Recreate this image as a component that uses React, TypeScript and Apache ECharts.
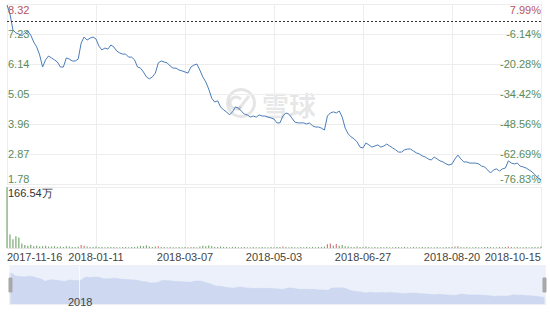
import React, { useEffect, useRef } from 'react';
import * as echarts from 'echarts';

const tickDates = ['2017-11-16', '2018-01-11', '2018-03-07', '2018-05-03', '2018-06-27', '2018-08-20', '2018-10-15'];
const STEP = 30;

const prices = [
  8.28, 7.96, 7.38, 7.27, 7.23, 7.16, 7.27, 7.34, 7.19, 6.94,
  6.76, 6.47, 6.03, 6.29, 6.43, 6.36, 6.29, 6.21, 6.03, 6.03,
  6.36, 6.32, 6.25, 6.25, 6.32, 6.90, 7.12, 7.01, 7.08, 7.12,
  7.05, 6.79, 6.65, 6.72, 6.68, 6.83, 6.76, 6.61, 6.54, 6.50,
  6.50, 6.39, 6.39, 6.29, 6.03, 5.99, 5.85, 5.67, 5.60, 5.67,
  5.81, 6.18, 6.25, 6.21, 6.18, 6.07, 5.99, 5.99, 5.92, 5.89,
  5.85, 5.81, 6.03, 6.10, 6.14, 5.92, 5.67, 5.49, 5.23, 4.90,
  4.76, 4.80, 4.58, 4.47, 4.40, 4.29, 4.40, 4.58, 4.54, 4.43,
  4.32, 4.29, 4.21, 4.25, 4.21, 4.29, 4.25, 4.25, 4.21, 4.18,
  4.14, 4.00, 4.00, 4.25, 4.36, 4.32, 4.18, 4.03, 4.00, 4.00,
  4.00, 3.96, 4.00, 3.89, 3.85, 3.85, 3.81, 3.74, 4.25, 4.36,
  4.40, 4.36, 4.43, 4.21, 3.81, 3.60, 3.49, 3.42, 3.31, 3.12,
  3.09, 3.27, 3.20, 3.12, 3.16, 3.20, 3.12, 3.16, 3.23, 3.16,
  3.09, 3.02, 2.94, 2.94, 3.02, 3.05, 3.05, 2.98, 2.91, 2.87,
  2.80, 2.76, 2.69, 2.65, 2.76, 2.69, 2.62, 2.58, 2.51, 2.47,
  2.51, 2.69, 2.83, 2.69, 2.58, 2.58, 2.54, 2.54, 2.54, 2.51,
  2.43, 2.40, 2.29, 2.18, 2.29, 2.33, 2.25, 2.33, 2.36, 2.62,
  2.54, 2.51, 2.54, 2.43, 2.40, 2.36, 2.29, 2.22, 2.11, 2.00,
  1.93,
];

const volumes = [
  166.54, 37, 24, 32, 29, 12, 8, 6, 9, 5,
  6, 4, 5, 6, 4, 4, 5, 3, 4, 3,
  5, 4, 3, 3, 4, 8, 6, 4, 3, 3,
  4, 3, 3, 2, 3, 3, 3, 2, 2, 3,
  3, 2, 3, 3, 4, 6, 5, 7, 4, 3,
  4, 5, 3, 3, 2, 3, 2, 2, 3, 2,
  3, 2, 3, 3, 2, 4, 6, 5, 7, 5,
  3, 3, 4, 3, 3, 2, 3, 3, 2, 2,
  3, 2, 2, 3, 2, 2, 3, 2, 2, 3,
  2, 3, 3, 4, 3, 2, 3, 2, 2, 3,
  2, 3, 2, 3, 2, 3, 3, 4, 10, 12,
  7, 11, 6, 8, 5, 4, 3, 3, 4, 3,
  3, 4, 3, 2, 3, 2, 3, 2, 3, 2,
  2, 3, 3, 2, 3, 2, 2, 3, 2, 2,
  3, 2, 3, 2, 2, 3, 2, 2, 3, 3,
  3, 4, 5, 3, 2, 3, 2, 2, 3, 2,
  2, 3, 3, 3, 2, 2, 3, 2, 3, 4,
  3, 2, 3, 2, 2, 3, 2, 3, 3, 3,
  4,
];

const upDays = [25, 26, 51, 62, 93, 108, 109, 111, 151, 169];
const pctLabels = ['-76.83%', '-62.69%', '-48.56%', '-34.42%', '-20.28%', '-6.14%', '7.99%'];
const priceMin = 1.78;
const priceMax = 8.32;
const priceStep = 1.09;
const baseClose = 7.705;
const volMax = 166.54;
const volUnit = '万';
const yearLabel = '2018';
const watermark = '雪球';

const categories = prices.map((_, i) => (i % STEP === 0 ? tickDates[i / STEP] : 'd' + i));
const showTick = (i: number) => i % STEP === 0;

const FONT = '"Liberation Sans", Arial, sans-serif';
const RED = '#b9545c';
const GREEN = '#5a8c5a';
const GRID = '#ededed';

export default function App() {
  const ref = useRef<HTMLDivElement>(null);
  useEffect(() => {
    if (!ref.current) return;
    const chart = echarts.init(ref.current, undefined, { renderer: 'svg' });
    const tickIdx = (v: number) => Math.round((v - priceMin) / priceStep);
    chart.setOption({
      animation: false,
      textStyle: { fontFamily: FONT },
      grid: [
        { left: 7, width: 534, top: 4, height: 180 },
        { left: 7, width: 534, top: 187, height: 61 },
      ],
      xAxis: [
        {
          gridIndex: 0, type: 'category', data: categories, boundaryGap: false,
          axisLine: { show: false }, axisTick: { show: false }, axisLabel: { show: false },
          splitLine: { show: true, interval: showTick, lineStyle: { color: GRID, width: 1 } },
        },
        {
          gridIndex: 1, type: 'category', data: categories, boundaryGap: false,
          axisLine: { show: true, lineStyle: { color: '#e4e4e4' } }, axisTick: { show: false },
          axisLabel: {
            interval: showTick, color: '#444', fontSize: 11, margin: 3, fontFamily: FONT,
            alignMinLabel: 'left', alignMaxLabel: 'right',
          },
          splitLine: { show: true, interval: showTick, lineStyle: { color: GRID, width: 1 } },
        },
      ],
      yAxis: [
        {
          gridIndex: 0, type: 'value', min: priceMin, max: priceMax, interval: priceStep, position: 'left',
          axisLine: { show: false }, axisTick: { show: false },
          splitLine: { show: true, lineStyle: { color: GRID, width: 1 } },
          axisLabel: {
            inside: true, margin: 1, fontSize: 11, fontFamily: FONT,
            formatter: (v: number) => v.toFixed(2),
            color: (v: any) => (tickIdx(Number(v)) === 6 ? RED : GREEN),
            verticalAlignMinLabel: 'bottom', verticalAlignMaxLabel: 'top',
          },
        },
        {
          gridIndex: 0, type: 'value', min: priceMin, max: priceMax, interval: priceStep, position: 'right',
          axisLine: { show: false }, axisTick: { show: false }, splitLine: { show: false },
          axisLabel: {
            inside: true, margin: 0, fontSize: 11, fontFamily: FONT,
            formatter: (v: number) => pctLabels[tickIdx(v)] ?? '',
            color: (v: any) => (tickIdx(Number(v)) === 6 ? RED : GREEN),
            verticalAlignMinLabel: 'bottom', verticalAlignMaxLabel: 'top',
          },
        },
        {
          gridIndex: 1, type: 'value', min: 0, max: volMax, interval: volMax,
          axisLine: { show: false }, axisTick: { show: false },
          splitLine: { show: true, lineStyle: { color: GRID, width: 1 } },
          axisLabel: {
            inside: true, margin: 1, fontSize: 11, fontFamily: FONT, color: '#333',
            formatter: (v: number) => (v === volMax ? volMax.toFixed(2) + volUnit : ''),
            verticalAlignMaxLabel: 'top',
          },
        },
      ],
      dataZoom: [
        {
          type: 'slider', xAxisIndex: [0, 1], start: 0, end: 100,
          left: 7, right: 7, top: 265, height: 40,
          showDetail: false, brushSelect: false, moveHandleSize: 0,
          backgroundColor: '#f4f6fc', borderColor: '#eef0f6',
          fillerColor: 'rgba(220,228,246,0.35)',
          handleIcon: 'path://M0,0H3V14H0Z', handleSize: '35%',
          handleStyle: { color: '#a8a8a8', borderColor: '#a8a8a8' },
          dataBackground: { lineStyle: { color: '#bccbea', width: 0.5 }, areaStyle: { color: '#c6d3ef', opacity: 1 } },
          selectedDataBackground: { lineStyle: { color: '#bccbea', width: 0.5 }, areaStyle: { color: '#c6d3ef', opacity: 1 } },
        },
      ],
      graphic: [
        {
          type: 'group', silent: true, z: 0,
          children: [
            { type: 'ring', shape: { cx: 241, cy: 103, r: 15, r0: 12 }, style: { fill: 'rgba(0,0,0,0.1)' } },
            { type: 'arc', shape: { cx: 236, cy: 103, r: 6, startAngle: Math.PI * 0.2, endAngle: Math.PI * 1.8 }, style: { stroke: 'rgba(0,0,0,0.1)', lineWidth: 3, fill: 'none' } },
            { type: 'line', shape: { x1: 238, y1: 110, x2: 249, y2: 96 }, style: { stroke: 'rgba(0,0,0,0.1)', lineWidth: 3 } },
            {
              type: 'text', x: 262, y: 104,
              style: { text: watermark, font: 'bold 27px "Noto Sans CJK SC"', fill: 'rgba(0,0,0,0.1)', verticalAlign: 'middle' },
            },
          ],
        },
        { type: 'line', z: 100, silent: true, shape: { x1: 79.5, y1: 266, x2: 79.5, y2: 305 }, style: { stroke: 'rgba(255,255,255,0.7)', lineWidth: 1 } },
        {
          type: 'text', z: 100, silent: true, x: 68, y: 302,
          style: { text: yearLabel, font: '11px "Liberation Sans", Arial, sans-serif', fill: '#444', verticalAlign: 'middle' },
        },
      ],
      series: [
        {
          type: 'line', xAxisIndex: 0, yAxisIndex: 0, data: prices, showSymbol: false, symbol: 'none',
          lineStyle: { color: '#4a7cb8', width: 1 },
          markLine: {
            silent: true, symbol: 'none', label: { show: false },
            lineStyle: { type: [2, 2], color: '#333', width: 1 },
            data: [{ yAxis: baseClose }],
          },
        },
        {
          type: 'bar', xAxisIndex: 1, yAxisIndex: 2, barWidth: 1.2,
          data: volumes.map((v, i) => ({
            value: v,
            itemStyle: { color: upDays.includes(i) ? '#d9787a' : '#78a872' },
          })),
        },
      ],
    });
    return () => chart.dispose();
  }, []);
  return <div ref={ref} style={{ position: 'absolute', left: 0, top: 0, width: 550, height: 312, background: '#fff' }} />;
}
